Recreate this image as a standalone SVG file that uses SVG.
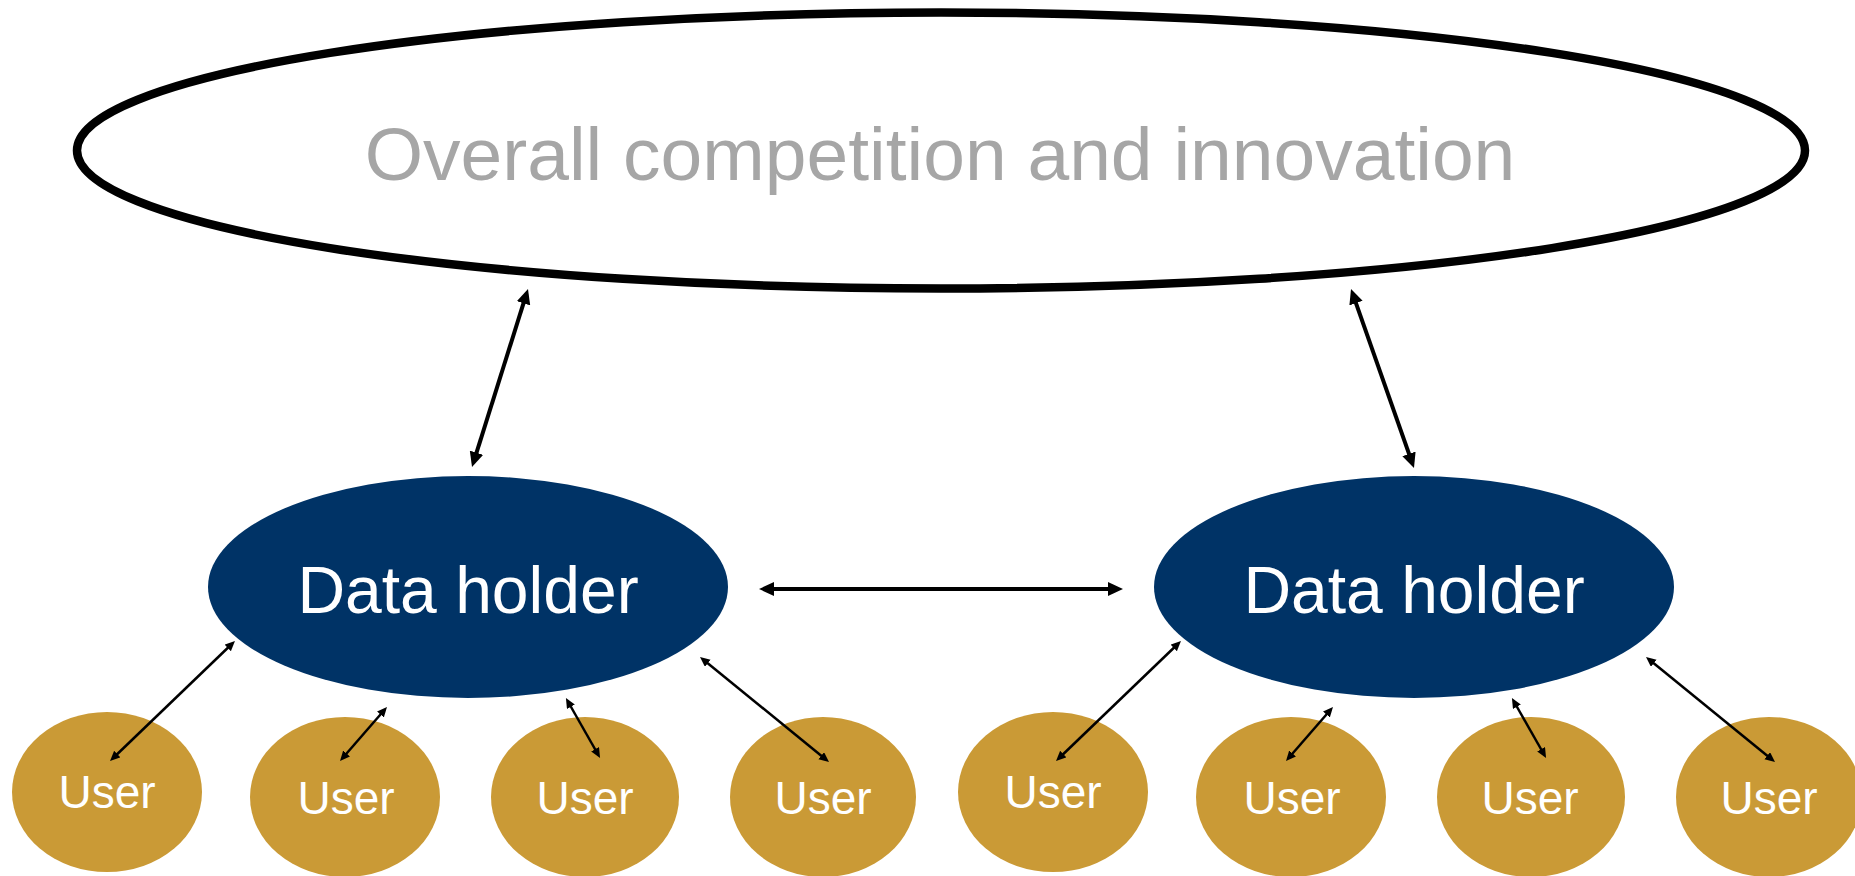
<svg xmlns="http://www.w3.org/2000/svg" width="1855" height="876" viewBox="0 0 1855 876">
<style>
.big{fill:#fff;stroke:#000;stroke-width:8.5}
.dh{fill:#003366}
.user{fill:#CA9A36}
.t{font-family:"Liberation Sans",Arial,sans-serif;text-anchor:middle}
.tbig{font-size:75px;fill:#A6A6A6}
.tdh{font-size:66px;fill:#fff}
.tu{font-size:46px;fill:#fff}
.a1{stroke:#000;stroke-width:4;fill:none;marker-start:url(#mb);marker-end:url(#mb)}
.a2{stroke:#000;stroke-width:2.5;fill:none;marker-start:url(#ms);marker-end:url(#ms)}
</style>
<defs>
<marker id="mb" markerUnits="userSpaceOnUse" markerWidth="16" markerHeight="15" refX="3" refY="7" orient="auto-start-reverse"><path d="M0,0 L15,7 L0,14 z" fill="#000"/></marker>
<marker id="ms" markerUnits="userSpaceOnUse" markerWidth="11" markerHeight="10" refX="2" refY="4.5" orient="auto-start-reverse"><path d="M0,0 L10,4.5 L0,9 z" fill="#000"/></marker>
</defs>
<rect width="1855" height="876" fill="#fff"/>
<g id="overall">
<ellipse class="big" cx="941" cy="150.5" rx="864" ry="138"/>
<text class="t tbig" x="940" y="180">Overall competition and innovation</text>
</g>
<g id="holder-left">
<ellipse class="dh" cx="468" cy="587" rx="260" ry="111"/>
<text class="t tdh" x="468" y="613">Data holder</text>
</g>
<g id="holder-right">
<ellipse class="dh" cx="1414" cy="587" rx="260" ry="111"/>
<text class="t tdh" x="1414" y="613">Data holder</text>
</g>
<g id="user-1"><ellipse class="user" cx="107" cy="792" rx="95" ry="80"/><text class="t tu" x="107" y="808">User</text></g>
<g id="user-2"><ellipse class="user" cx="345" cy="797" rx="95" ry="80"/><text class="t tu" x="346" y="814">User</text></g>
<g id="user-3"><ellipse class="user" cx="585" cy="797" rx="94" ry="80"/><text class="t tu" x="585" y="814">User</text></g>
<g id="user-4"><ellipse class="user" cx="823" cy="797" rx="93" ry="80"/><text class="t tu" x="823" y="814">User</text></g>
<g id="user-5"><ellipse class="user" cx="1053" cy="792" rx="95" ry="80"/><text class="t tu" x="1053" y="808">User</text></g>
<g id="user-6"><ellipse class="user" cx="1291" cy="797" rx="95" ry="80"/><text class="t tu" x="1292" y="814">User</text></g>
<g id="user-7"><ellipse class="user" cx="1531" cy="797" rx="94" ry="80"/><text class="t tu" x="1530" y="814">User</text></g>
<g id="user-8"><ellipse class="user" cx="1769" cy="797" rx="93" ry="80"/><text class="t tu" x="1769" y="814">User</text></g>
<g id="connectors">
<line class="a1" x1="524.4" y1="300.4" x2="475.6" y2="455.6"/>
<line class="a1" x1="1355" y1="300.3" x2="1410" y2="456.7"/>
<line class="a1" x1="771" y1="589" x2="1111" y2="589"/>
<line class="a2" x1="229.2" y1="646.5" x2="115.8" y2="755.5"/>
<line class="a2" x1="381.75" y1="713" x2="345.25" y2="755"/>
<line class="a2" x1="569.9" y1="705" x2="596.1" y2="751"/>
<line class="a2" x1="706.2" y1="662.05" x2="822.8" y2="756.95"/>
<line class="a2" x1="1175.2" y1="646.5" x2="1061.8" y2="755.5"/>
<line class="a2" x1="1327.75" y1="713" x2="1291.25" y2="755"/>
<line class="a2" x1="1515.9" y1="705" x2="1542.1" y2="751"/>
<line class="a2" x1="1652.2" y1="662.05" x2="1768.8" y2="756.95"/>
</g>
</svg>
